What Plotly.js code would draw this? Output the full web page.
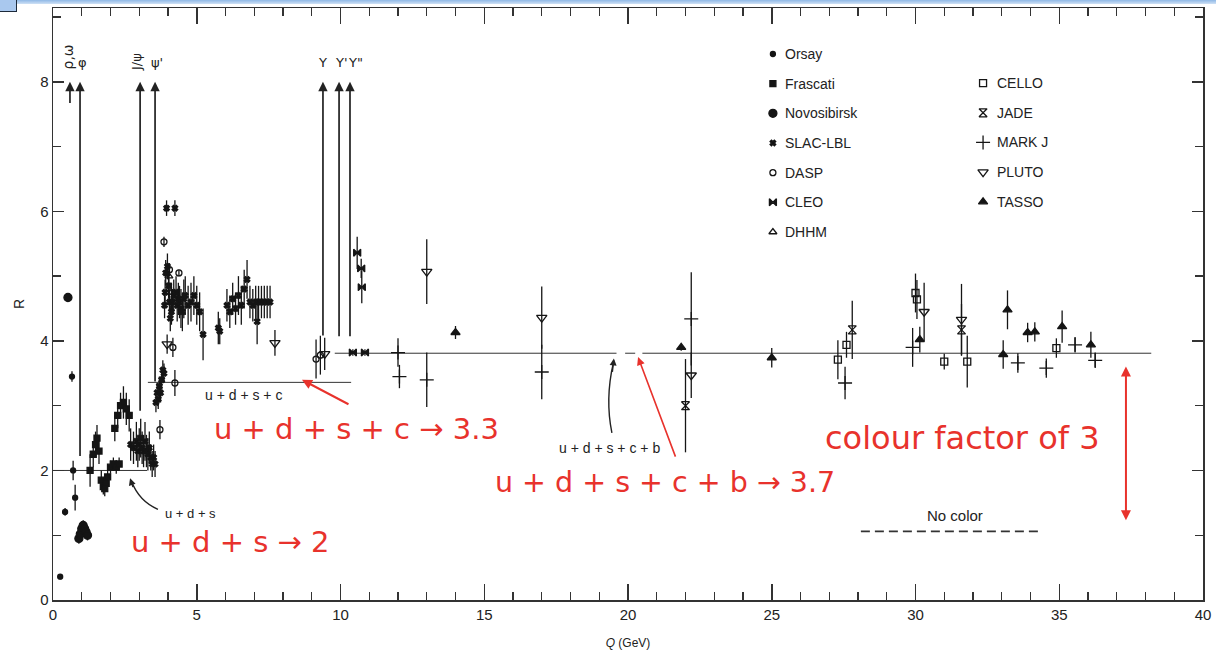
<!DOCTYPE html>
<html>
<head>
<meta charset="utf-8">
<script src="https://cdn.plot.ly/plotly-3.0.1.min.js"></script>
<style>
  html, body { margin: 0; padding: 0; background: #ffffff; }
  #chart { width: 1216px; height: 653px; }
  #topbar { position: absolute; left: 0; top: 0; width: 1216px; height: 4px;
            background: linear-gradient(to bottom, #8fb8e6, #cfe1f5); z-index: 5; }
  #topbox { position: absolute; left: 0; top: 0; width: 16px; height: 11px;
            background: #a9c8ee; border: 1.5px solid #1d2a3a; border-left: none; border-top: none; z-index: 6; }
</style>
</head>
<body>
<div id="topbar"></div>
<div id="topbox"></div>
<div id="chart"></div>
<script>
// ---------------- data ----------------
// Orsay
const orsayX   = [0.25, 0.42, 0.66, 0.70, 0.77];
const orsayY   = [0.36, 1.36, 3.45, 2.00, 1.58];
const orsayErr = [0.04, 0.06, 0.08, 0.15, 0.20];
// Frascati
const frascatiX   = [1.29, 1.40, 1.48, 1.53, 1.60, 1.68, 1.75, 1.80, 1.85, 1.90, 2.00, 2.10, 2.20, 2.30, 2.15, 2.25, 2.35, 2.45, 2.55, 2.65];
const frascatiY   = [2.00, 2.25, 2.40, 2.50, 2.30, 1.85, 1.75, 1.72, 1.80, 1.90, 2.05, 2.10, 2.05, 2.10, 2.65, 2.85, 3.00, 3.05, 2.95, 2.85];
const frascatiErr = [0.25, 0.20, 0.20, 0.20, 0.20, 0.15, 0.12, 0.12, 0.12, 0.12, 0.10, 0.10, 0.10, 0.10, 0.20, 0.20, 0.20, 0.25, 0.25, 0.25];
// Novosibirsk
const novosibirskX   = [0.52, 0.90, 0.95, 1.00, 1.05, 1.10, 1.15, 1.20];
const novosibirskY   = [4.67, 0.95, 1.02, 1.10, 1.15, 1.10, 1.05, 1.00];
const novosibirskErr = [0.05, 0.08, 0.08, 0.08, 0.08, 0.08, 0.08, 0.08];
// SLAC-LBL
const slacX = [2.70, 2.80, 2.90, 2.95, 3.00, 3.05, 3.10, 3.15, 3.20, 3.25, 3.30, 3.35, 3.40, 3.45, 3.50, 3.55,
               3.58, 3.62, 3.66, 3.70, 3.74, 3.78, 3.82, 3.86,
               3.88, 3.90, 3.92, 3.95, 3.98, 4.02, 4.05, 4.08, 4.12, 4.16, 4.20, 4.24, 4.28, 4.32, 4.36, 4.40,
               4.45, 4.50, 4.55, 4.60, 4.70, 4.80, 4.90, 5.00, 5.10, 5.22,
               5.75, 5.80, 6.05, 6.15, 6.25, 6.35, 6.45, 6.55, 6.65, 6.75, 6.85, 6.95, 7.05, 7.10, 7.15, 7.25, 7.35, 7.45, 7.55];
const slacY = [2.40, 2.35, 2.45, 2.30, 2.40, 2.50, 2.35, 2.30, 2.45, 2.30, 2.25, 2.35, 2.20, 2.10, 2.20, 2.10,
               3.05, 3.20, 3.10, 3.30, 3.20, 3.40, 3.55, 3.50,
               4.55, 4.75, 5.05, 6.05, 5.15, 4.85, 4.60, 4.35, 4.45, 4.60, 4.70, 6.05, 4.75, 4.55, 4.65, 4.60,
               4.50, 4.45, 4.65, 4.70, 4.55, 4.60, 4.70, 4.55, 4.45, 4.10,
               4.20, 4.15, 4.55, 4.45, 4.65, 4.50, 4.70, 4.55, 4.80, 4.95, 4.60, 4.55, 4.60, 4.30, 4.60, 4.60, 4.60, 4.60, 4.60];
const slacErr = [0.25, 0.25, 0.30, 0.25, 0.25, 0.30, 0.25, 0.25, 0.30, 0.25, 0.25, 0.25, 0.20, 0.20, 0.20, 0.20,
                 0.15, 0.15, 0.15, 0.15, 0.15, 0.15, 0.15, 0.15,
                 0.20, 0.20, 0.20, 0.12, 0.20, 0.20, 0.20, 0.20, 0.20, 0.20, 0.25, 0.12, 0.25, 0.25, 0.25, 0.25,
                 0.30, 0.30, 0.30, 0.30, 0.30, 0.30, 0.30, 0.30, 0.30, 0.40,
                 0.25, 0.20, 0.25, 0.25, 0.25, 0.25, 0.30, 0.30, 0.30, 0.30, 0.25, 0.25, 0.25, 0.35, 0.25, 0.25, 0.25, 0.25, 0.25];
// DASP
const daspX   = [3.72, 3.86, 4.05, 4.17, 4.24, 4.38, 9.15, 9.30];
const daspY   = [2.63, 5.53, 5.10, 3.90, 3.35, 5.05, 3.72, 3.78];
const daspErr = [0.15, 0.08, 0.10, 0.15, 0.20, 0.05, 0.30, 0.30];
// CLEO
const cleoX   = [10.43, 10.58, 10.72, 10.74, 10.85];
const cleoY   = [3.82, 5.36, 5.12, 4.83, 3.82];
const cleoErr = [0.05, 0.25, 0.15, 0.25, 0.05];
// DHHM
const dhhmX   = [4.03, 4.12];
const dhhmY   = [5.00, 4.75];
const dhhmErr = [0.15, 0.15];
// CELLO
const celloX   = [27.3, 27.6, 30.0, 30.05, 31.0, 31.8, 34.9];
const celloY   = [3.71, 3.94, 4.74, 4.64, 3.68, 3.68, 3.89];
const celloErr = [0.30, 0.20, 0.30, 0.30, 0.12, 0.40, 0.15];
// JADE
const jadeX   = [22.0, 27.8, 31.6];
const jadeY   = [3.00, 4.17, 4.17];
const jadeErr = [0.72, 0.45, 0.40];
// MARK J
const markjX   = [12.0, 12.05, 13.0, 17.0, 22.2, 27.55, 29.9, 33.56, 34.55, 35.55, 36.25];
const markjY   = [3.82, 3.45, 3.40, 3.52, 4.34, 3.35, 3.90, 3.66, 3.58, 3.94, 3.70];
const markjErr = [0.22, 0.18, 0.42, 0.42, 0.72, 0.25, 0.30, 0.15, 0.15, 0.12, 0.12];
// PLUTO
const plutoX   = [3.97, 7.72, 9.45, 13.0, 17.0, 22.2, 30.3, 31.6];
const plutoY   = [3.95, 3.97, 3.80, 5.07, 4.36, 3.47, 4.45, 4.33];
const plutoErr = [0.15, 0.20, 0.25, 0.50, 0.48, 0.35, 0.45, 0.55];
// TASSO
const tassoX   = [14.0, 21.85, 25.0, 30.15, 33.05, 33.2, 33.9, 34.15, 35.1, 36.1];
const tassoY   = [4.13, 3.90, 3.74, 4.02, 3.79, 4.48, 4.13, 4.14, 4.22, 3.94];
const tassoErr = [0.10, 0.05, 0.15, 0.20, 0.22, 0.30, 0.15, 0.15, 0.25, 0.20];

// quark-parton model levels
const udsX   = [0, 3.27];          const udsY   = [2.0, 2.0];
const udscX  = [3.30, 10.37];      const udscY  = [3.36, 3.36];
const udscbX = [9.8, 19.6, null, 19.9, 20.25, null, 20.5, 38.2];
const udscbY = [3.81, 3.81, null, 3.81, 3.81, null, 3.81, 3.81];
const noColorX = [28.1, 34.4];     const noColorY = [1.06, 1.06];

// resonances
const resonanceNames  = ['ρ,ω', 'φ', 'J/ψ', "ψ'", 'Υ', "Υ'", 'Υ"'];
const resonanceX      = [0.59, 0.94, 3.03, 3.55, 9.39, 9.95, 10.33];
const resonanceBottom = [7.65, 2.20, 2.90, 3.35, 4.06, 4.05, 4.05];
const resonanceTop    = [8.0, 8.0, 8.0, 8.0, 8.0, 8.0, 8.0];

// axis tick labels
const xTickVals = [0, 5, 10, 15, 20, 25, 30, 35, 40];
const xTickText = ['0', '5', '10', '15', '20', '25', '30', '35', '40'];
const yTickVals = [0, 2, 4, 6, 8];
const yTickText = ['0', '2', '4', '6', '8'];

// legend names
const legendCol1 = ['Orsay', 'Frascati', 'Novosibirsk', 'SLAC-LBL', 'DASP', 'CLEO', 'DHHM'];
const legendCol2 = ['CELLO', 'JADE', 'MARK J', 'PLUTO', 'TASSO'];

// ---------------- styles ----------------
const INK = '#151515';
const RED = '#e8322c';
const styles = {
  'Orsay':       {symbol: 'circle', size: 5},
  'Frascati':    {symbol: 'square', size: 6},
  'Novosibirsk': {symbol: 'circle', size: 8},
  'SLAC-LBL':    {symbol: 'x', size: 5},
  'DASP':        {symbol: 'circle-open', size: 6},
  'CLEO':        {symbol: 'bowtie', size: 7},
  'DHHM':        {symbol: 'triangle-up-open', size: 7},
  'CELLO':       {symbol: 'square-open', size: 7},
  'JADE':        {symbol: 'hourglass-open', size: 8},
  'MARK J':      {symbol: 'cross-thin-open', size: 10},
  'PLUTO':       {symbol: 'triangle-down-open', size: 9},
  'TASSO':       {symbol: 'triangle-up', size: 8}
};

const experiments = [
  ['Orsay', orsayX, orsayY, orsayErr],
  ['Frascati', frascatiX, frascatiY, frascatiErr],
  ['Novosibirsk', novosibirskX, novosibirskY, novosibirskErr],
  ['SLAC-LBL', slacX, slacY, slacErr],
  ['DASP', daspX, daspY, daspErr],
  ['CLEO', cleoX, cleoY, cleoErr],
  ['DHHM', dhhmX, dhhmY, dhhmErr],
  ['CELLO', celloX, celloY, celloErr],
  ['JADE', jadeX, jadeY, jadeErr],
  ['MARK J', markjX, markjY, markjErr],
  ['PLUTO', plutoX, plutoY, plutoErr],
  ['TASSO', tassoX, tassoY, tassoErr]
];

const traces = [];
function lineTrace(x, y, dash, width) {
  return {x: x, y: y, mode: 'lines', type: 'scatter', showlegend: false, hoverinfo: 'skip',
          line: {color: '#333', width: width || 1, dash: dash || 'solid'}, connectgaps: false};
}
traces.push(lineTrace(udsX, udsY));
traces.push(lineTrace(udscX, udscY));
traces.push(lineTrace(udscbX, udscbY));
traces.push(lineTrace(noColorX, noColorY, '9px,5px', 1.8));

experiments.forEach(([name, x, y, e]) => {
  const st = styles[name];
  traces.push({
    type: 'scatter', mode: 'markers', name: name, x: x, y: y, showlegend: false,
    error_y: {type: 'data', array: e, visible: true, color: INK, thickness: 1.3, width: 0},
    marker: {symbol: st.symbol, size: st.size, color: INK, line: {color: INK, width: 1.3}}
  });
});

// custom two-column key (layout positions)
const KEY = {col1Marker: 25.04, col1Text: 25.39, col2Marker: 32.35, col2Text: 32.77,
             col1Top: 8.43, col2Top: 7.98, step: 0.458};
const annotations = [];
function keyColumn(names, xm, xt, top) {
  names.forEach((n, i) => {
    const yy = top - i * KEY.step;
    const st = styles[n];
    traces.push({type: 'scatter', mode: 'markers', x: [xm], y: [yy], showlegend: false, hoverinfo: 'skip',
                 marker: {symbol: st.symbol, size: st.size, color: INK, line: {color: INK, width: 1.3}}});
    annotations.push({x: xt, y: yy, xref: 'x', yref: 'y', text: n, showarrow: false,
                      xanchor: 'left', yanchor: 'middle',
                      font: {family: 'Liberation Sans, Arial, sans-serif', size: 14, color: '#222'}});
  });
}
keyColumn(legendCol1, KEY.col1Marker, KEY.col1Text, KEY.col1Top);
keyColumn(legendCol2, KEY.col2Marker, KEY.col2Text, KEY.col2Top);

// resonance arrows + labels
resonanceNames.forEach((n, i) => {
  annotations.push({x: resonanceX[i], y: resonanceTop[i], ax: resonanceX[i], ay: resonanceBottom[i],
                    xref: 'x', yref: 'y', axref: 'x', ayref: 'y', text: '', showarrow: true,
                    arrowhead: 2, arrowsize: 1.1, arrowwidth: 1.7, arrowcolor: '#222'});
});
const labelFont = {family: 'DejaVu Sans, sans-serif', size: 13, color: '#222'};
annotations.push({x: resonanceX[0] - 0.06, y: 8.38, text: resonanceNames[0], textangle: -90, showarrow: false,
                  font: {family: 'DejaVu Sans, sans-serif', size: 14, color: '#222'}});
annotations.push({x: resonanceX[1] + 0.08, y: 8.30, text: resonanceNames[1], showarrow: false, font: labelFont});
annotations.push({x: resonanceX[2] - 0.12, y: 8.30, text: resonanceNames[2], textangle: -90, showarrow: false, font: labelFont});
annotations.push({x: resonanceX[3] + 0.08, y: 8.30, text: resonanceNames[3], showarrow: false, font: labelFont});
annotations.push({x: resonanceX[4], y: 8.30, text: resonanceNames[4], showarrow: false, font: labelFont});
annotations.push({x: resonanceX[5] + 0.1, y: 8.30, text: resonanceNames[5], showarrow: false, font: labelFont});
annotations.push({x: resonanceX[6] + 0.2, y: 8.30, text: resonanceNames[6], showarrow: false, font: labelFont});

// black labels of the model lines
const smallFont = {family: 'Liberation Sans, Arial, sans-serif', size: 14, color: '#222'};
annotations.push({x: 6.61, y: 3.16, text: 'u + d + s + c', showarrow: false, font: smallFont});
annotations.push({x: 4.77, y: 1.33, text: 'u + d + s', showarrow: false,
                  font: {family: 'Liberation Sans, Arial, sans-serif', size: 13, color: '#222'}});
annotations.push({x: 19.37, y: 2.35, text: 'u + d + s + c + b', showarrow: false, font: smallFont});
annotations.push({x: 31.37, y: 1.31, text: 'No color', showarrow: false, font: {family: 'Liberation Sans, Arial, sans-serif', size: 15, color: '#222'}});
// arrowheads for the curved black pointers
annotations.push({x: 2.68, y: 1.88, ax: 2.80, ay: 1.72, xref: 'x', yref: 'y', axref: 'x', ayref: 'y', text: '',
                  showarrow: true, arrowhead: 2, arrowsize: 1, arrowwidth: 1.4, arrowcolor: '#222'});
annotations.push({x: 19.51, y: 3.73, ax: 19.45, ay: 3.50, xref: 'x', yref: 'y', axref: 'x', ayref: 'y', text: '',
                  showarrow: true, arrowhead: 2, arrowsize: 1, arrowwidth: 1.4, arrowcolor: '#222'});

// red hand annotations
const redFont = (s) => ({family: 'Comic Sans MS, DejaVu Sans, sans-serif', size: s, color: RED});
annotations.push({x: 10.54, y: 2.64, text: 'u + d + s + c → 3.3', showarrow: false, font: redFont(29)});
annotations.push({x: 6.16, y: 0.90, text: 'u + d + s → 2', showarrow: false, font: redFont(29)});
annotations.push({x: 21.29, y: 1.81, text: 'u + d + s + c + b → 3.7', showarrow: false, font: redFont(28.5)});
annotations.push({x: 31.65, y: 2.50, text: 'colour factor of 3', showarrow: false, font: redFont(32)});
annotations.push({x: 8.66, y: 3.40, ax: 10.33, ay: 3.01, xref: 'x', yref: 'y', axref: 'x', ayref: 'y', text: '',
                  showarrow: true, arrowhead: 2, arrowsize: 1, arrowwidth: 2, arrowcolor: RED});
annotations.push({x: 20.35, y: 3.75, ax: 21.67, ay: 2.19, xref: 'x', yref: 'y', axref: 'x', ayref: 'y', text: '',
                  showarrow: true, arrowhead: 2, arrowsize: 1, arrowwidth: 1.6, arrowcolor: RED});
annotations.push({x: 37.32, y: 1.23, ax: 37.32, ay: 3.63, xref: 'x', yref: 'y', axref: 'x', ayref: 'y', text: '',
                  showarrow: true, arrowhead: 2, startarrowhead: 2, arrowside: 'end+start',
                  arrowsize: 1, startarrowsize: 1, arrowwidth: 2, arrowcolor: RED});

const shapes = [
  {type: 'path', xref: 'x', yref: 'y', path: 'M 3.65 1.40 Q 3.00 1.52 2.72 1.84',
   line: {color: '#222', width: 1.4}},
  {type: 'path', xref: 'x', yref: 'y', path: 'M 19.44 2.58 Q 19.20 3.10 19.49 3.66',
   line: {color: '#222', width: 1.4}}
];

const tickFont = {family: 'Liberation Sans, Arial, sans-serif', size: 15, color: '#222'};
const layout = {
  width: 1216, height: 653,
  margin: {l: 53, r: 13, t: 8, b: 53, pad: 0},
  paper_bgcolor: '#ffffff', plot_bgcolor: '#ffffff',
  showlegend: false,
  xaxis: {
    range: [0, 40], tickmode: 'array', tickvals: xTickVals, ticktext: xTickText,
    ticks: 'inside', ticklen: 16, tickwidth: 1.5, tickcolor: '#333',
    minor: {dtick: 1, ticks: 'inside', ticklen: 8, tickwidth: 1.4, tickcolor: '#333', showgrid: false},
    showline: true, linecolor: '#333', linewidth: 1.5, mirror: 'allticks',
    showgrid: false, zeroline: false, tickfont: tickFont,
    title: {text: '<i>Q</i> (GeV)', font: {family: 'Liberation Sans, Arial, sans-serif', size: 12, color: '#222'}, standoff: 17}
  },
  yaxis: {
    range: [0, 9.14], tickmode: 'array', tickvals: yTickVals, ticktext: yTickText,
    ticks: 'inside', ticklen: 11, tickwidth: 1.5, tickcolor: '#333',
    minor: {dtick: 1, ticks: 'inside', ticklen: 8, tickwidth: 1.4, tickcolor: '#333', showgrid: false},
    showline: true, linecolor: '#333', linewidth: 1.5, mirror: 'allticks',
    showgrid: false, zeroline: false, tickfont: tickFont,
    title: {text: 'R', font: {family: 'Liberation Sans, Arial, sans-serif', size: 14, color: '#222'}, standoff: 12}
  },
  annotations: annotations,
  shapes: shapes
};

Plotly.newPlot('chart', traces, layout, {displayModeBar: false, staticPlot: true});
</script>
</body>
</html>
